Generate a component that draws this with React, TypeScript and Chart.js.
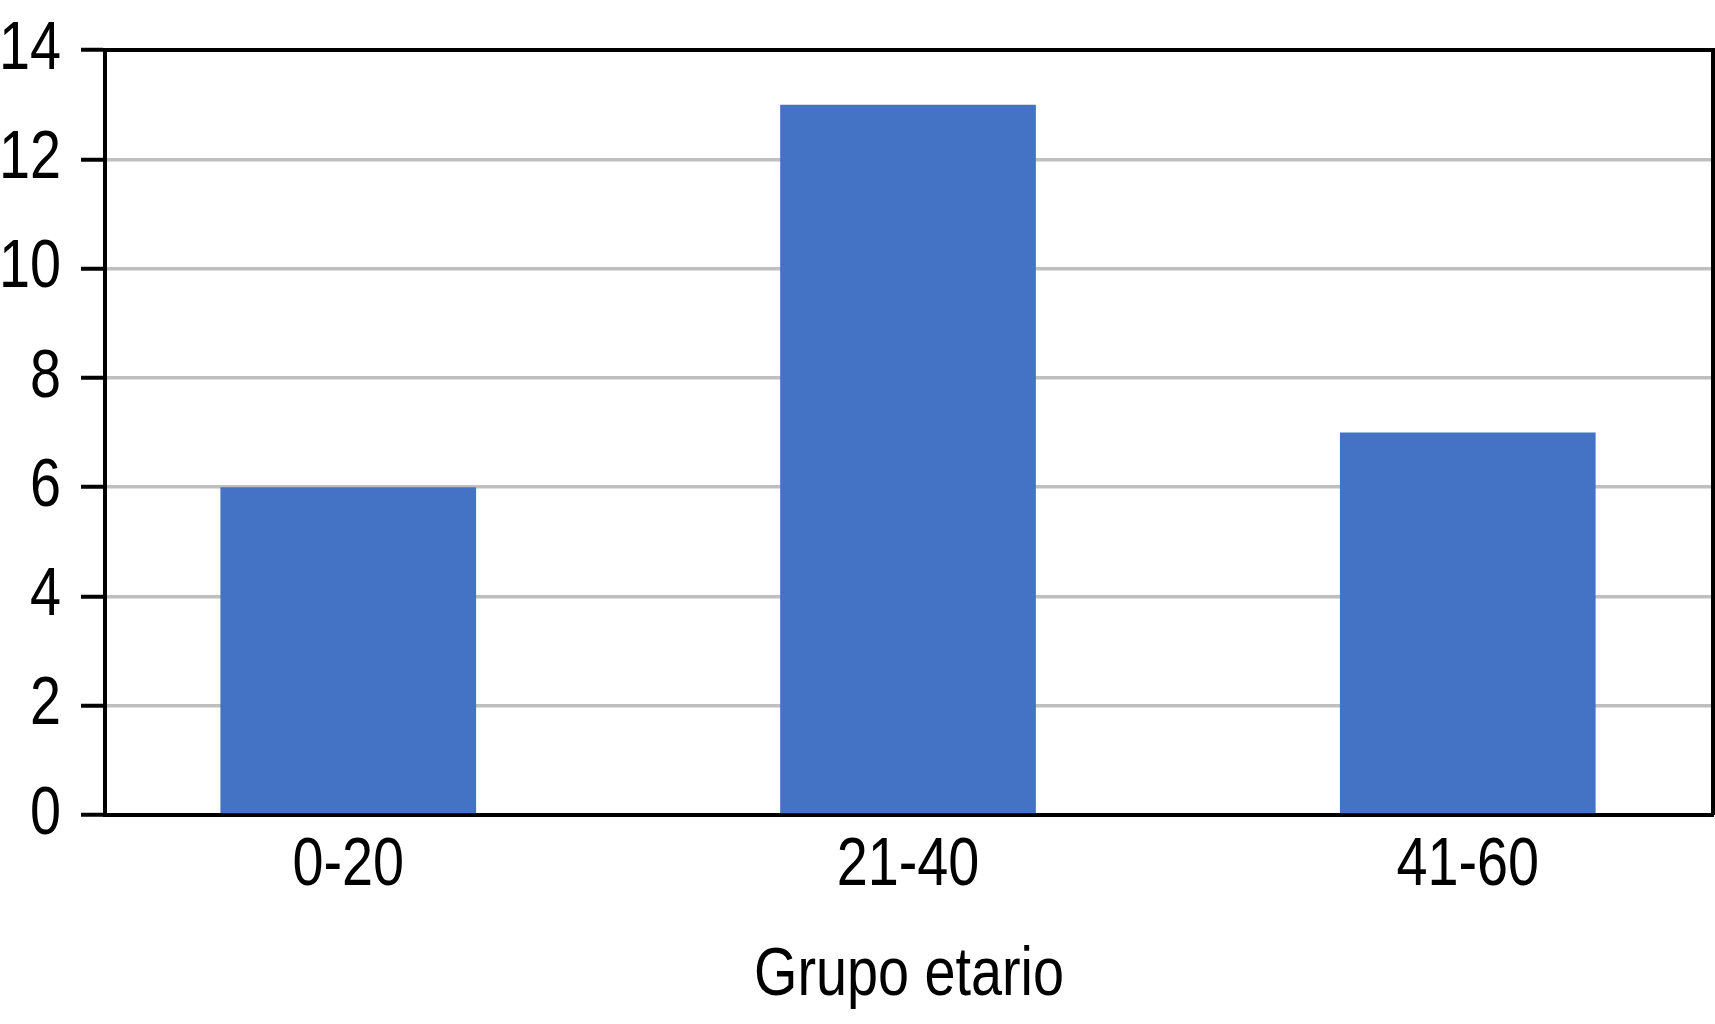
import React, { useEffect, useRef } from "react";
import { Chart, registerables } from "chart.js";

Chart.register(...registerables);

const categories = ["0-20", "21-40", "41-60"];
const counts = [6, 13, 7];
const yTickValues = [0, 2, 4, 6, 8, 10, 12, 14];
const xTitle = "Grupo etario";

const FONT_FAMILY = "'Liberation Sans', Arial, sans-serif";
const NARROW = 0.82; // horizontal squeeze to imitate a condensed sans face

export default function App() {
  const ref = useRef<HTMLCanvasElement>(null);

  useEffect(() => {
    document.body.style.margin = "0";
    Chart.defaults.font.family = FONT_FAMILY;

    const narrowText = {
      id: "narrowText",
      beforeDraw(chart: any) {
        const ctx = chart.ctx;
        if (ctx.__origFillText) return;
        const orig = ctx.fillText.bind(ctx);
        ctx.__origFillText = orig;
        ctx.fillText = (text: string, x: number, y: number, maxWidth?: number) => {
          ctx.save();
          ctx.translate(x, y);
          ctx.scale(NARROW, 1);
          if (maxWidth === undefined || maxWidth === null) orig(text, 0, 0);
          else orig(text, 0, 0, maxWidth / NARROW);
          ctx.restore();
        };
      },
      afterDraw(chart: any) {
        const ctx = chart.ctx;
        if (ctx.__origFillText) {
          ctx.fillText = ctx.__origFillText;
          delete ctx.__origFillText;
        }
      },
    };

    const frame = {
      id: "frame",
      afterDraw(chart: any) {
        const { ctx, chartArea } = chart;
        const { left, top, right, bottom } = chartArea;
        ctx.save();
        ctx.strokeStyle = "#000";
        ctx.lineWidth = 4;
        ctx.beginPath();
        ctx.moveTo(left, top);
        ctx.lineTo(right, top);
        ctx.lineTo(right, bottom);
        ctx.stroke();
        ctx.restore();
      },
    };

    const chart = new Chart(ref.current as HTMLCanvasElement, {
      type: "bar",
      data: {
        datasets: [
          {
            data: counts.map((v, i) => ({ x: i, y: v })),
            backgroundColor: "#4472C4",
            borderWidth: 0,
            barPercentage: 1,
            categoryPercentage: 0.4568,
          },
        ],
      },
      options: {
        animation: false,
        responsive: false,
        layout: { padding: { top: 50, right: 2, bottom: 0, left: 0 } },
        plugins: { legend: { display: false }, tooltip: { enabled: false } },
        scales: {
          x: {
            type: "linear",
            min: -0.4346,
            max: 2.4381,
            offset: false,
            z: 1,
            afterBuildTicks: (s: any) => {
              s.ticks = categories.map((_, i) => ({ value: i }));
            },
            afterFit: (s: any) => {
              s.height = 209;
              s.paddingLeft = 0;
              s.paddingRight = 0;
            },
            grid: { display: false, drawTicks: false },
            border: { display: true, color: "#000", width: 4 },
            ticks: {
              callback: (v: any) => categories[v] ?? "",
              font: { size: 68 },
              color: "#000",
              padding: 10,
              maxRotation: 0,
              autoSkip: false,
            },
            title: {
              display: true,
              text: xTitle,
              font: { size: 68 },
              color: "#000",
              padding: { top: 0, bottom: 7 },
            },
          },
          y: {
            min: 0,
            max: 14,
            afterBuildTicks: (s: any) => {
              s.ticks = yTickValues.map((v) => ({ value: v }));
            },
            afterFit: (s: any) => {
              s.width = 105;
              s.paddingTop = 0;
              s.paddingBottom = 0;
            },
            grid: {
              color: "#BFBFBF",
              lineWidth: 3.5,
              tickColor: "#000",
              tickWidth: 4,
              tickLength: 24,
            },
            border: { color: "#000", width: 4 },
            ticks: { font: { size: 68 }, color: "#000", padding: 20 },
          },
        },
      },
      plugins: [narrowText, frame],
    } as any);

    return () => chart.destroy();
  }, []);

  return (
    <canvas ref={ref} width={1715} height={1024} style={{ display: "block" }} />
  );
}
